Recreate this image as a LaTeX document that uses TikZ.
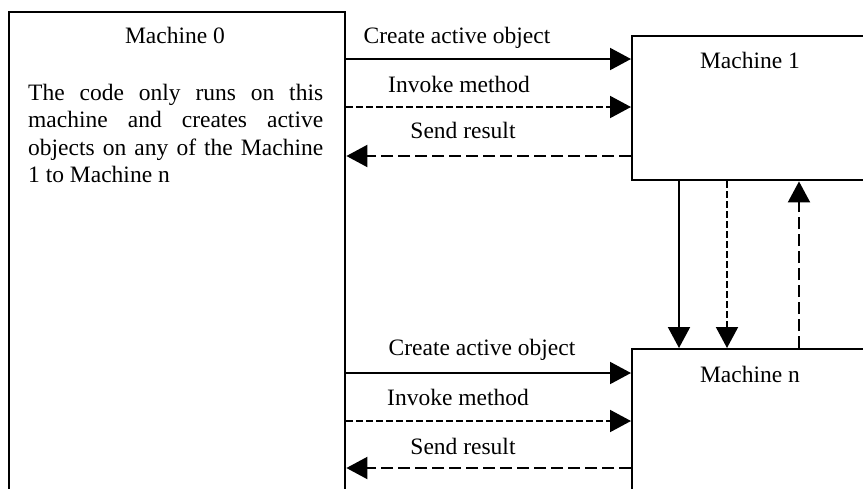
\documentclass[tikz,border=0pt]{standalone}
\usepackage{fontspec}
\setmainfont{Liberation Serif}
\usetikzlibrary{arrows.meta}
\begin{document}
\begin{tikzpicture}[x=1pt,y=-1pt,
  box/.style={draw, line width=2.4pt, rectangle, inner sep=0pt, anchor=north west},
  lbl/.style={font=\fontsize{23.5}{27.5}\selectfont, inner sep=0pt, anchor=base},
  tip/.style={-{Triangle[length=21pt,width=22pt]}},
  flowsolid/.style={tip, line width=2pt},
  flowcall/.style={tip, line width=2pt, dash pattern=on 7pt off 3pt},
  flowback/.style={tip, line width=2pt, dash pattern=on 12pt off 5pt}]
\useasboundingbox (0,0) rectangle (863,488);
\fill[white] (0,0) rectangle (863,488);
\clip (0,0) rectangle (863,488);

% machines (the right and lower parts run past the frame)
\node[box, minimum width=336pt, minimum height=520pt] (m0) at (8,11) {};
\node[box, minimum width=260pt, minimum height=144pt] (m1) at (631,35) {};
\node[box, minimum width=260pt, minimum height=200pt] (mn) at (631,348) {};

% titles and description
\node[lbl] (t0) at (175,43) {Machine 0};
\node[lbl] (t1) at (750,68) {Machine 1};
\node[lbl] (tn) at (750,382) {Machine n};
% base of a multi-line node sits on its last line
\node[font=\fontsize{23.5}{27.5}\selectfont, inner sep=0pt, anchor=base west, align=left] (desc) at (28,182.5)
  {\makebox[295pt][s]{The code only runs on this}\\
   \makebox[295pt][s]{machine and creates active}\\
   \makebox[295pt][s]{objects on any of the Machine}\\
   \makebox[295pt][l]{1 to Machine n}};

% rows of the message arrows
\coordinate (r1) at (0,59);
\coordinate (r2) at (0,107);
\coordinate (r3) at (0,156);
\coordinate (r4) at (0,373);
\coordinate (r5) at (0,421);
\coordinate (r6) at (0,468);
% columns of the arrows between machine 1 and machine n
\coordinate (k1) at (679,0);
\coordinate (k2) at (727,0);
\coordinate (k3) at (799,0);

% machine 0 <-> machine 1
\draw[flowsolid] (m0.east |- r1) -- (m1.west |- r1);
\draw[flowcall]  (m0.east |- r2) -- (m1.west |- r2);
\draw[flowback]  (m1.west |- r3) -- (m0.east |- r3);
\node[lbl] (c1) at (457,43) {Create active object};
\node[lbl] (i1) at (459,92) {Invoke method};
\node[lbl] (s1) at (463,138) {Send result};

% machine 0 <-> machine n
\draw[flowsolid] (m0.east |- r4) -- (mn.west |- r4);
\draw[flowcall]  (m0.east |- r5) -- (mn.west |- r5);
\draw[flowback]  (mn.west |- r6) -- (m0.east |- r6);
\node[lbl] (c2) at (482,355) {Create active object};
\node[lbl] (i2) at (458,405) {Invoke method};
\node[lbl] (s2) at (463,454) {Send result};

% machine 1 <-> machine n
\draw[flowsolid] (m1.south -| k1) -- (mn.north -| k1);
\draw[flowcall]  (m1.south -| k2) -- (mn.north -| k2);
\draw[flowback]  (mn.north -| k3) -- (m1.south -| k3);
\end{tikzpicture}
\end{document}
